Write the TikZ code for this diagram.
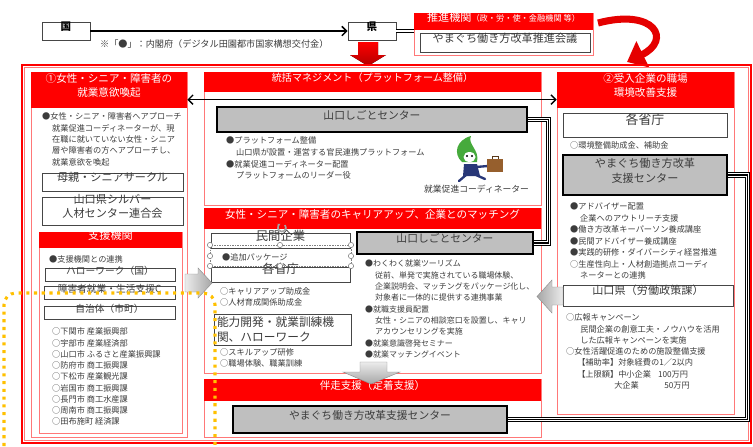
\documentclass[tikz,border=0pt]{standalone}
\usepackage{fontspec}
\setmainfont{Noto Sans CJK JP}
\usepackage{tikz}
\usetikzlibrary{arrows.meta,positioning,fit,calc}
\definecolor{ywRed}{RGB}{255,0,0}
\definecolor{ywPink}{RGB}{255,120,120}
\definecolor{ywGray}{RGB}{191,191,191}
\definecolor{ywDark}{RGB}{70,70,70}
\definecolor{ywInk}{RGB}{60,60,60}
\definecolor{ywOrange}{RGB}{255,192,0}
\definecolor{ywGreen}{RGB}{70,170,60}
\definecolor{ywNavy}{RGB}{40,55,120}
\definecolor{ywBrown}{RGB}{150,95,45}
\newcommand{\indt}{\hspace*{8.5pt}}

\begin{document}
\begin{tikzpicture}[x=0.03cm, y=-0.03cm, >={Straight Barb[length=4pt,width=8pt]}, font=\fontsize{7}{9.7}\selectfont, text=ywInk]
\tikzstyle{panel}=[draw=ywPink, line width=0.6pt, inner sep=0pt]
\tikzstyle{redhead}=[fill=ywRed, text=white, inner sep=0pt, align=center, font=\fontsize{9}{11.2}\selectfont]
\tikzstyle{wbox}=[draw=ywDark, line width=0.6pt, fill=white, inner sep=0pt, align=center, font=\fontsize{9.5}{12.5}\selectfont]
\tikzstyle{gbox}=[draw=black, line width=2pt, fill=ywGray, inner sep=0pt, align=center, font=\fontsize{9.2}{12.8}\selectfont]
\tikzstyle{txt}=[anchor=north west, inner sep=0pt, align=left]
\tikzstyle{tripleline}=[preaction={draw=black, line width=4.4pt}, preaction={draw=white, line width=2.6pt}, draw=black, line width=0.9pt]
\tikzstyle{blockarrow}=[draw=ywDark!60, line width=0.4pt]
\tikzstyle{selhandle}=[circle, draw=gray, fill=white, inner sep=0pt, minimum size=4.5pt, line width=0.5pt]

\useasboundingbox (0,0) rectangle (753,446);

% national / prefecture line
\node[wbox, fit={(42,22) (90,40)}, text=black, font=\bfseries\fontsize{9}{11}\selectfont] (kuni) {国};
\node[wbox, fit={(348,22) (396,40)}, text=black, font=\bfseries\fontsize{9}{11}\selectfont] (ken) {県};
\draw[->, line width=1.3pt] (kuni) -- (ken);
\node[anchor=west, font=\fontsize{7.8}{9}\selectfont] (note) at (96,44) {※「●」：内閣府（デジタル田園都市国家構想交付金）};

\node[panel, fit={(414,13) (593,55)}] (suishin) {};
\node[redhead, fit={(414,13) (593,30)}, font=\fontsize{9.5}{11}\selectfont] (suishinHead) {推進機関{\fontsize{7}{9}\selectfont（政・労・使・金融機関 等）}};
\node[wbox, fit={(420,33) (590,52)}] (kaigi) {やまぐち働き方改革推進会議};
\draw[double, double distance=1.4pt, line width=0.6pt] (ken.east) -- (ken.east -| suishin.west);

\draw[ywRed!90!black, line width=6pt, -{Triangle[length=15pt,width=24pt]}] (598,23) .. controls (655,8) and (672,40) .. (627,62);
\fill[top color=ywRed, bottom color=ywRed!70!black] (358,42) -- (378,42) -- (378,55) -- (386,55) -- (368,66) -- (350,55) -- (358,55) -- cycle;

% outer frame
\node[fit={(22,65) (751,443)}, draw=ywRed, line width=1.8pt, inner sep=0pt] (frame) {};
\draw[ywPink, line width=0.5pt] ($(frame.north west)+(3.5,3.5)$) rectangle ($(frame.south east)+(-3.5,-3.5)$);

% column 1
\node[panel, fit={(31,72) (187,437)}] (leftcol) {};
\node[redhead, fit={(31,72) (187,108)}] (leftHead) {①女性・シニア・障害者の\\就業意欲喚起};
\node[txt] (leftText) at (42,112.7) {●女性・シニア・障害者へアプローチ\\\indt 就業促進コーディネーターが、現\\\indt 在職に就いていない女性・シニア\\\indt 層や障害者の方へアプローチし、\\\indt 就業意欲を喚起};
\node[wbox, fit={(42,173) (183,191)}] (mothers) {母親・シニアサークル};
\node[wbox, fit={(42,197) (183,225)}] (silver) {山口県シルバー\\人材センター連合会};

\node[panel, fit={(39,232) (182,433)}] (support) {};
\node[redhead, fit={(39,232) (182,248)}, font=\fontsize{9.5}{11}\selectfont] (supportHead) {支援機関};
\node[anchor=west] (supportText) at (45,259) {●支援機関との連携};
\node[wbox, fit={(45,268) (175,281)}, font=\fontsize{8.3}{10}\selectfont] (hellowork) {ハローワーク（国）};
\node[wbox, fit={(44,286) (175,299)}, font=\fontsize{8.3}{10}\selectfont] (seikatsu) {障害者就業・生活支援C};
\node[wbox, fit={(44,306) (175,319)}, font=\fontsize{8.3}{10}\selectfont] (jichitai) {自治体（市町）};
\node[txt, font=\fontsize{7}{9.6}\selectfont] (cities) at (52,327.7) {○下関市 産業振興部\\○宇部市 産業経済部\\○山口市 ふるさと産業振興課\\○防府市 商工振興課\\○下松市 産業観光課\\○岩国市 商工振興課\\○長門市 商工水産課\\○周南市 商工振興課\\○田布施町 経済課};

% column 2, platform
\node[panel, fit={(204,72) (541,205)}] (mgmt) {};
\node[redhead, fit={(204,72) (541,92)}, font=\fontsize{8.6}{11}\selectfont] (mgmtHead) {統括マネジメント（プラットフォーム整備）};
\node[gbox, fit={(217,107) (527,132)}] (shigotoA) {山口しごとセンター};
\node[txt, font=\fontsize{7}{10}\selectfont] (mgmtText) at (226,136.7) {●プラットフォーム整備\\\indt 山口県が設置・運営する官民連携プラットフォーム\\●就業促進コーディネーター配置\\\indt プラットフォームのリーダー役};
\node[anchor=west, font=\fontsize{7.5}{9}\selectfont] (coordLabel) at (420,189) {就業促進コーディネーター};

% coordinator character
\fill[ywNavy] (464,164) -- (477,164) -- (480,176) -- (463,176) -- cycle;
\draw[ywNavy, line width=2pt, line cap=round] (466,175) -- (459,181) (476,175) -- (485,179) (476,167) -- (488,166);
\fill[ywBrown] (487,159) rectangle (503,172);
\draw[ywBrown!60!black, line width=0.8pt] (492,159) -- (492,156) -- (498,156) -- (498,159);
\fill[ywGreen] (462,162) .. controls (453,154) and (456,140) .. (471,136) .. controls (467,144) and (480,150) .. (477,162) -- cycle;
\fill[white] (469.5,157) ellipse [x radius=6, y radius=5];
\fill (467,156) circle [radius=1.2] (472,156) circle [radius=1.2];

% column 2, career up and matching
\node[panel, fit={(204,208) (541,373)}] (career) {};
\node[redhead, fit={(204,208) (541,229)}] (careerHead) {女性・シニア・障害者のキャリアアップ、企業とのマッチング};
\node[wbox, fit={(211,233) (350,248)}, font=\fontsize{10.5}{12}\selectfont] (minkan) {民間企業};
\node[anchor=west] (pkg) at (218,257) {●追加パッケージ};
\node[wbox, fit={(211,267) (350,282)}, font=\fontsize{10.5}{12}\selectfont] (shochoA) {各省庁};
\node[txt, font=\fontsize{7}{9.4}\selectfont] (grantA) at (220,287.7) {○キャリアアップ助成金\\○人材育成関係助成金};
\node[wbox, anchor=north west, minimum width=4.11cm, minimum height=0.93cm, text width=3.95cm, align=left, font=\fontsize{10}{12.5}\selectfont] (kunren) at (214,314) {能力開発・就業訓練機\\関、ハローワーク};
\node[txt, font=\fontsize{7}{9.4}\selectfont] (trainA) at (220,348.7) {○スキルアップ研修\\○職場体験、職業訓練};
\node[gbox, fit={(357,232) (533,254)}] (shigotoB) {山口しごとセンター};
\node[txt, font=\fontsize{6.8}{9.7}\selectfont] (careerText) at (365,259.7) {●わくわく就業ツーリズム\\\indt 従前、単発で実施されている職場体験、\\\indt 企業説明会、マッチングをパッケージ化し、\\\indt 対象者に一体的に提供する連携事業\\●就職支援員配置\\\indt 女性・シニアの相談窓口を設置し、キャリ\\\indt アカウンセリングを実施\\●就業意識啓発セミナー\\●就業マッチングイベント};

% column 2, follow-up
\node[panel, fit={(204,379) (541,437)}] (follow) {};
\node[redhead, fit={(204,379) (541,401)}] (followHead) {伴走支援（定着支援）};
\node[gbox, fit={(233,406) (507,433)}] (shienB) {やまぐち働き方改革支援センター};

% column 3
\node[panel, fit={(557,72) (734,414)}] (rightcol) {};
\node[redhead, fit={(557,72) (734,108)}] (rightHead) {②受入企業の職場\\環境改善支援};
\node[wbox, fit={(563,113) (727,137)}, font=\fontsize{11}{13}\selectfont] (shochoB) {各省庁};
\node[anchor=west] (grantB) at (566,145) {○環境整備助成金、補助金};
\node[gbox, fit={(563,155) (727,195)}, font=\fontsize{9.5}{12.8}\selectfont] (shienA) {やまぐち働き方改革\\支援センター};
\node[txt, font=\fontsize{7}{9.8}\selectfont] (shienText) at (570,202.7) {●アドバイザー配置\\\indt 企業へのアウトリーチ支援\\●働き方改革キーパーソン養成講座\\●民間アドバイザー養成講座\\●実践的研修・ダイバーシティ経営推進\\○生産性向上・人材創造拠点コーディ\\\indt ネーターとの連携};
\node[wbox, fit={(563,285) (733,306)}] (rodo) {山口県（労働政策課）};
\node[txt, font=\fontsize{7}{9.6}\selectfont] (rodoText) at (566,313.7) {○広報キャンペーン\\\hspace*{12pt}民間企業の創意工夫・ノウハウを活用\\\hspace*{12pt}した広報キャンペーンを実施\\○女性活躍促進のための施設整備支援\\\hspace*{9.4pt}【補助率】対象経費の1／2以内\\\hspace*{9.4pt}\makebox[69pt][l]{【上限額】中小企業}100万円\\\hspace*{41pt}\makebox[42.7pt][l]{大企業}50万円};

% links
\draw[<->, line width=1.2pt] ($(leftcol.north east)+(0,28)$) -- ($(rightcol.north west)+(0,28)$);
\draw[tripleline] (shigotoA.east) -- ++(20,0) |- (shigotoB.east);
\draw[tripleline] (shienB.east) -| ($(shienA.east)+(19,0)$) -- (shienA.east);

% block arrows
\shade[blockarrow, left color=gray!15, right color=gray!70] (185,274) -- (198,274) -- (198,268) -- (212,283) -- (198,298) -- (198,292) -- (185,292) -- cycle;
\shade[blockarrow, right color=gray!15, left color=gray!70] (563,287) -- (552,287) -- (552,280) -- (537,296.5) -- (552,313) -- (552,305) -- (563,305) -- cycle;
\shade[blockarrow, top color=gray!15, bottom color=gray!70] (360,362) -- (387,362) -- (387,372) -- (400,372) -- (371,384) -- (343,372) -- (360,372) -- cycle;

% selection marks
\draw[gray, densely dotted, line width=0.4pt] (210,245) rectangle (351,266);
\foreach \hx/\hy in {210/245, 280/245, 351/245, 210/256, 351/256, 210/266, 280/266, 351/266}
  \node[selhandle] at (\hx,\hy) {};
\draw[gray!70, line width=1.4pt, -{Stealth[length=3pt]}] (285,225) arc [start angle=-40, end angle=250, radius=4];
\draw[ywOrange, line width=2.6pt, dash pattern=on 2.6pt off 4pt, rounded corners=10pt] (4,446) -- (4,293) -- (215,293) -- (215,446);
\end{tikzpicture}
\end{document}
